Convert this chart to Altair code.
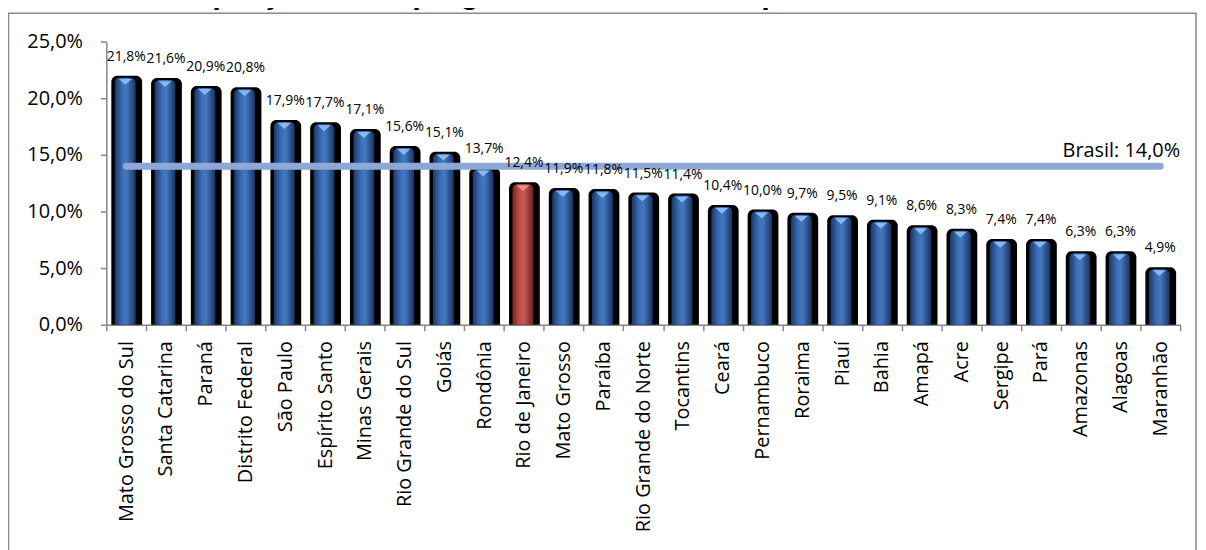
import altair as alt
import pandas as pd

states = ["Mato Grosso do Sul", "Santa Catarina", "Paraná", "Distrito Federal", "São Paulo",
          "Espírito Santo", "Minas Gerais", "Rio Grande do Sul", "Goiás", "Rondônia",
          "Rio de Janeiro", "Mato Grosso", "Paraíba", "Rio Grande do Norte", "Tocantins",
          "Ceará", "Pernambuco", "Roraima", "Piauí", "Bahia", "Amapá", "Acre", "Sergipe",
          "Pará", "Amazonas", "Alagoas", "Maranhão"]
values = [21.8, 21.6, 20.9, 20.8, 17.9, 17.7, 17.1, 15.6, 15.1, 13.7, 12.4, 11.9, 11.8,
          11.5, 11.4, 10.4, 10.0, 9.7, 9.5, 9.1, 8.6, 8.3, 7.4, 7.4, 6.3, 6.3, 4.9]
highlight = "Rio de Janeiro"
brasil = 14.0
brasil_label = "Brasil: 14,0%"
title_text = "Gráfico 7 - Proporção de empregadores entre os empreendedores: 2010"

df = pd.DataFrame({"estado": states, "valor": values})
df["rotulo"] = [f"{v:.1f}".replace(".", ",") + "%" for v in values]
df["brasil"] = brasil

FONT = "Open Sans"

x_enc = alt.X("estado:N", sort=states, title=None,
              scale=alt.Scale(paddingInner=0, paddingOuter=0),
              axis=alt.Axis(labelAngle=-90, labelAlign="right", labelBaseline="middle",
                            labelFontSize=20, labelFont=FONT, labelColor="black",
                            labelPadding=10, labelLimit=400, tickBand="extent", tickSize=6,
                            tickColor="#868686", domainColor="#868686",
                            tickWidth=1.5, domainWidth=1.5))
y_enc = alt.Y("valor:Q", title=None, stack=None,
              scale=alt.Scale(domain=[0, 25], nice=False),
              axis=alt.Axis(values=[0, 5, 10, 15, 20, 25],
                            labelExpr="replace(format(datum.value, '.1f'), '.', ',') + '%'",
                            labelFontSize=20, labelFont=FONT, labelColor="black",
                            labelPadding=18, tickSize=6, tickColor="#868686",
                            domainColor="#868686", tickWidth=1.5, domainWidth=1.5,
                            grid=False))

base = alt.Chart(df)

blue_grad = alt.LinearGradient(gradient="linear", x1=0, x2=1, y1=0, y2=0, stops=[
    alt.GradientStop(offset=0, color="#1c3866"),
    alt.GradientStop(offset=0.35, color="#3a6cb4"),
    alt.GradientStop(offset=0.55, color="#4379c2"),
    alt.GradientStop(offset=1, color="#1a3360")])
red_grad = alt.LinearGradient(gradient="linear", x1=0, x2=1, y1=0, y2=0, stops=[
    alt.GradientStop(offset=0, color="#7a2523"),
    alt.GradientStop(offset=0.35, color="#c0504d"),
    alt.GradientStop(offset=0.55, color="#c95a57"),
    alt.GradientStop(offset=1, color="#6e2120")])

shadow = base.mark_bar(width=31, xOffset=0.5, color="black", yOffset=-2,
                       cornerRadiusTopLeft=6, cornerRadiusTopRight=6).encode(
    x=x_enc, y=y_enc, y2=alt.datum(0))
blue = base.transform_filter(alt.datum.estado != highlight).mark_bar(
    width=21, xOffset=-1, fill=blue_grad, cornerRadiusTopLeft=5, cornerRadiusTopRight=5).encode(
    x=x_enc, y=y_enc, y2=alt.datum(0))
red = base.transform_filter(alt.datum.estado == highlight).mark_bar(
    width=21, xOffset=-1, fill=red_grad, cornerRadiusTopLeft=5, cornerRadiusTopRight=5).encode(
    x=x_enc, y=y_enc, y2=alt.datum(0))
tri_blue = base.transform_filter(alt.datum.estado != highlight).mark_point(
    shape="M-1,-0.45L1,-0.45L0,0.45Z", filled=True, color="#86b9f2", opacity=1,
    size=170, yOffset=4, xOffset=-1).encode(x=x_enc, y=y_enc)
tri_red = base.transform_filter(alt.datum.estado == highlight).mark_point(
    shape="M-1,-0.45L1,-0.45L0,0.45Z", filled=True, color="#f08a86", opacity=1,
    size=170, yOffset=4, xOffset=-1).encode(x=x_enc, y=y_enc)

line = base.mark_line(color="#8EA8D6", strokeWidth=7, strokeCap="round").encode(
    x=x_enc, y=alt.Y("brasil:Q", scale=alt.Scale(domain=[0, 25], nice=False)))

labels = base.mark_text(font=FONT, fontSize=14, color="black", baseline="middle",
                        dy=-21).encode(x=x_enc, y=y_enc, text="rotulo:N")

blabel = alt.Chart(pd.DataFrame({"estado": [states[-1]], "valor": [brasil],
                                 "t": [brasil_label]})).mark_text(
    font=FONT, fontSize=20, color="black", align="right", baseline="middle",
    dx=20, dy=-15).encode(x=x_enc, y=y_enc, text="t:N")

one = pd.DataFrame({"a": [0]})
frame = alt.Chart(one).mark_rect(fill=None, stroke="#8a8a8a", strokeWidth=1.5).encode(
    x=alt.value(-98.5), x2=alt.value(1097), y=alt.value(-28.5), y2=alt.value(600))
title = alt.Chart(one).mark_text(text=title_text, font="Liberation Sans", fontWeight="bold",
                                 fontSize=31, align="left", baseline="alphabetic",
                                 color="black").encode(x=alt.value(-107), y=alt.value(-39))

chart = alt.layer(frame, shadow, blue, red, tri_blue, tri_red, line, labels, blabel, title).properties(
    width=1081, height=285,
    autosize=alt.AutoSizeParams(type="none"),
    padding={"left": 99, "top": 32, "right": 18, "bottom": 225},
).configure_view(stroke=None)

chart.save("out.html", embed_options={"renderer": "svg", "actions": False})
